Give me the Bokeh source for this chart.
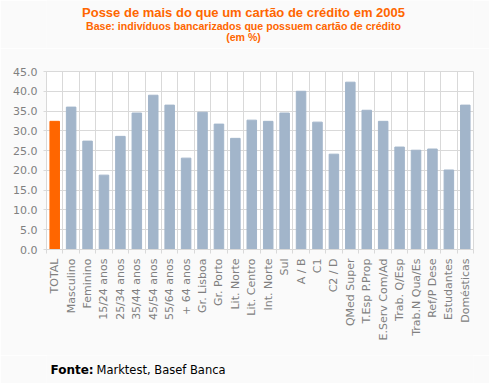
import math
from bokeh.plotting import figure
from bokeh.layouts import column
from bokeh.models import ColumnDataSource, FixedTicker, Range1d, NumeralTickFormatter
from bokeh.core.properties import value
from bokeh.embed import file_html
from bokeh.resources import INLINE

categories = ["TOTAL", "Masculino", "Feminino", "15/24 anos", "25/34 anos", "35/44 anos",
              "45/54 anos", "55/64 anos", "+ 64 anos", "Gr. Lisboa", "Gr. Porto", "Lit. Norte",
              "Lit. Centro", "Int. Norte", "Sul", "A / B", "C1", "C2 / D", "QMed Super",
              "T.Esp P.Prop", "E.Serv Com/Ad", "Trab. Q/Esp", "Trab.N Qua/Es", "Ref/P Dese",
              "Estudantes", "Domésticas"]
values = [32.4, 36.0, 27.4, 18.8, 28.6, 34.5, 39.0, 36.5, 23.1, 34.7, 31.7, 28.1,
          32.7, 32.4, 34.5, 40.0, 32.2, 24.1, 42.3, 35.2, 32.4, 25.9, 25.1, 25.4,
          20.1, 36.5]
y_ticks = [0, 5, 10, 15, 20, 25, 30, 35, 40, 45]

title = "Posse de mais do que um cartão de crédito em 2005"
subtitle = "Base: indivíduos bancarizados que possuem cartão de crédito"
subtitle2 = "(em %)"
source_label = "Fonte:"
source_text = "Marktest, Basef Banca"

W = 489
L, R = 46, 16          # frame borders (shared by all stacked figures)
BG = "#FAFAFA"
orange = "#FF6600"
grid_col = "#D9D9D9"
lab_col = "#808080"

# ---- header with titles (x in page pixels, y from top) ----
HH = 48
head = figure(width=W, height=HH, output_backend="svg", toolbar_location=None,
              x_range=Range1d(L, W - R), y_range=Range1d(HH, 0),
              x_axis_type=None, y_axis_type=None,
              min_border=0, min_border_left=L, min_border_right=R)
head.grid.visible = False
head.outline_line_color = None
head.background_fill_color = BG
head.border_fill_color = BG
head.text(x=[243], y=[12], text=[title], text_font=value("Liberation Sans"), text_font_size="13px",
          text_font_style="bold", text_color=orange, text_align="center", text_baseline="middle")
head.text(x=[243, 243], y=[25, 36], text=[subtitle, subtitle2], text_font=value("Liberation Sans"),
          text_font_size="10.6px", text_font_style="bold", text_color=orange,
          text_align="center", text_baseline="middle")

# ---- main chart ----
n = len(categories)
xs = [i + 0.5 for i in range(n)]
colors = ["#FF6600"] + ["#A2B5CA"] * (n - 1)
src = ColumnDataSource(dict(x=xs, top=values, color=colors))

MH = 307
p = figure(width=W, height=MH, output_backend="svg", toolbar_location=None,
           x_range=Range1d(0, n), y_range=Range1d(0, 45),
           min_border_left=L, min_border_right=R, min_border_top=23, min_border_bottom=106)
p.background_fill_color = "#FFFFFF"
p.border_fill_color = BG
p.outline_line_color = grid_col
p.outline_line_width = 1

p.vbar(x="x", top="top", width=0.58, color="color", source=src)

p.xaxis.ticker = FixedTicker(ticks=xs, minor_ticks=list(range(n + 1)))
p.xaxis.major_label_overrides = {x: c for x, c in zip(xs, categories)}
p.xaxis.major_label_orientation = math.pi / 2
p.xaxis.major_tick_out = 0
p.xaxis.major_tick_in = 0
p.xaxis.minor_tick_out = 4
p.xaxis.minor_tick_in = 0
p.xaxis.minor_tick_line_color = grid_col
p.xaxis.axis_line_color = grid_col
p.xaxis.major_label_text_font = "DejaVu Sans"
p.xaxis.major_label_text_font_size = "11px"
p.xaxis.major_label_text_color = lab_col
p.xaxis.major_label_standoff = 5
p.xgrid.ticker = FixedTicker(ticks=list(range(n + 1)))
p.xgrid.grid_line_color = grid_col

p.yaxis.ticker = FixedTicker(ticks=y_ticks)
p.yaxis.formatter = NumeralTickFormatter(format="0.0")
p.yaxis.major_tick_out = 3
p.yaxis.major_tick_in = 0
p.yaxis.minor_tick_line_color = None
p.yaxis.major_tick_line_color = grid_col
p.yaxis.axis_line_color = grid_col
p.yaxis.major_label_text_font = "DejaVu Sans"
p.yaxis.major_label_text_font_size = "11px"
p.yaxis.major_label_text_color = lab_col
p.yaxis.major_label_standoff = 6
p.ygrid.grid_line_color = grid_col

# ---- footer with source (x in page pixels, y from top) ----
FH = 28
foot = figure(width=W, height=FH, output_backend="svg", toolbar_location=None,
              x_range=Range1d(L, W - R), y_range=Range1d(FH, 0),
              x_axis_type=None, y_axis_type=None,
              min_border=0, min_border_left=L, min_border_right=R)
foot.grid.visible = False
foot.outline_line_color = None
foot.background_fill_color = BG
foot.border_fill_color = BG
foot.text(x=[50], y=[14], text=[source_label], text_font=value("DejaVu Sans"), text_font_size="12px",
          text_font_style="bold", text_color="#000000", text_align="left", text_baseline="middle")
foot.text(x=[96], y=[14], text=[source_text], text_font=value("DejaVu Sans"), text_font_size="11.5px",
          text_color="#000000", text_align="left", text_baseline="middle")

layout = column(head, p, foot, spacing=0)
open("out.html", "w").write(file_html(layout, INLINE))
